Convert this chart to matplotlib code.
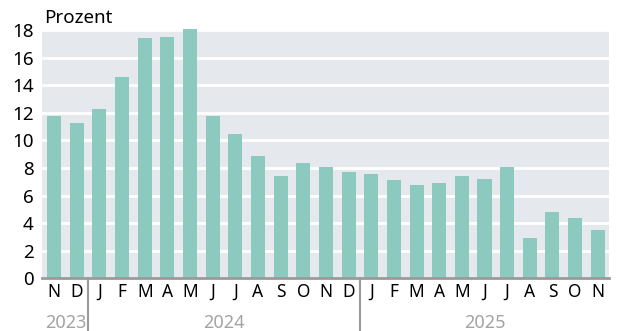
import matplotlib
matplotlib.use("Agg")
import matplotlib.pyplot as plt

months = ["N", "D",
          "J", "F", "M", "A", "M", "J", "J", "A", "S", "O", "N", "D",
          "J", "F", "M", "A", "M", "J", "J", "A", "S", "O", "N"]
values = [11.8, 11.3,
          12.3, 14.6, 17.4, 17.5, 18.1, 11.8, 10.5, 8.9, 7.4, 8.4, 8.1, 7.7,
          7.6, 7.1, 6.8, 6.9, 7.4, 7.2, 8.1, 2.9, 4.8, 4.4, 3.5]
years = ["2023", "2024", "2025"]
year_counts = [2, 12, 11]
yticks = [0, 2, 4, 6, 8, 10, 12, 14, 16, 18]

plt.rcParams["font.family"] = ["Noto Sans", "DejaVu Sans"]

BAR = "#8ccac0"
BG = "#e5e9ed"
GREY = "#9a9a9a"

fig = plt.figure(figsize=(6.2, 3.31), dpi=100)
ax = fig.add_axes([0.068, 0.159, 0.914, 0.750])
ax.set_facecolor(BG)

x = list(range(len(values)))
ax.bar(x, values, width=0.62, color=BAR, zorder=3, clip_on=False)

ax.set_xlim(-0.53, len(values) - 0.51)
ax.set_ylim(0, 18)
ax.set_yticks(yticks)
ax.set_yticklabels([str(t) for t in yticks], fontsize=13.5)
ax.yaxis.grid(True, color="white", linewidth=2, zorder=1)
ax.set_axisbelow(True)
ax.tick_params(axis="y", length=0, pad=6)

ax.set_xticks(x)
ax.set_xticklabels(months, fontsize=12.5)
ax.tick_params(axis="x", length=0, pad=3)

for s in ["top", "right", "left"]:
    ax.spines[s].set_visible(False)
ax.spines["bottom"].set_color(GREY)
ax.spines["bottom"].set_linewidth(2)
ax.spines["bottom"].set_zorder(4)

# year labels and separators below the month labels
start = 0
trans = ax.get_xaxis_transform()
for i, (yr, n) in enumerate(zip(years, year_counts)):
    center = start + (n - 1) / 2
    ax.text(center, -0.178, yr, transform=trans, ha="center", va="center",
            fontsize=13, color="#a3a3a3", clip_on=False)
    if i > 0:
        ax.plot([start - 0.5, start - 0.5], [0, -0.23], transform=trans,
                color=GREY, linewidth=1.5, clip_on=False)
    start += n

fig.text(44 / 620, 1 - 18 / 331, "Prozent", ha="left", va="center", fontsize=13.5)

fig.savefig("out.png", dpi=100)
